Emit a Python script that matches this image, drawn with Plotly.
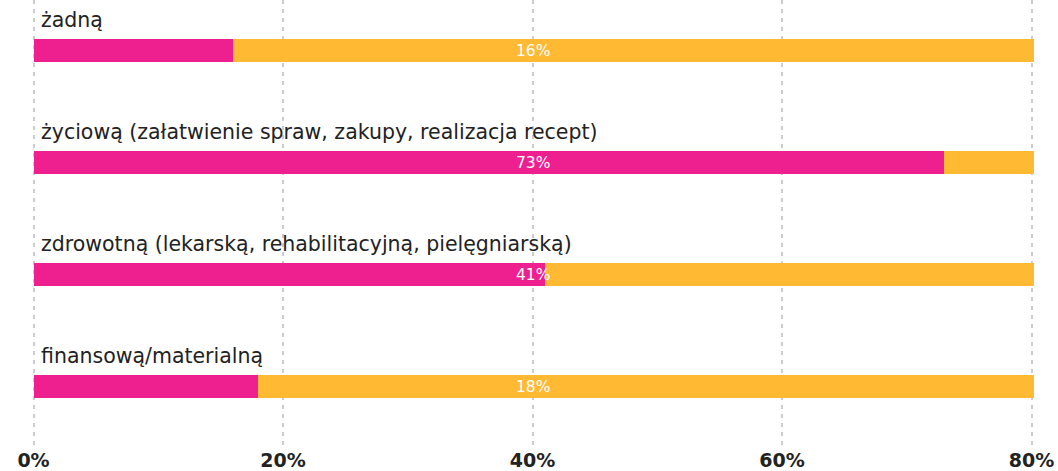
import plotly.graph_objects as go

# Rodzaje pomocy i odsetek odpowiedzi
categories = [
    "żadną",
    "życiową (załatwienie spraw, zakupy, realizacja recept)",
    "zdrowotną (lekarską, rehabilitacyjną, pielęgniarską)",
    "finansową/materialną",
]
values = [16, 73, 41, 18]
remainder = [100 - v for v in values]
tick_vals = [0, 20, 40, 60, 80]
tick_text = ["0%", "20%", "40%", "60%", "80%"]

PINK = "#EE1F8E"
YELLOW = "#FFB933"
FONT = "DejaVu Sans"

pos = list(range(len(categories)))

fig = go.Figure()
fig.add_trace(go.Bar(
    y=pos, x=values, orientation="h", marker=dict(color=PINK, line=dict(width=0)),
    width=0.205, hoverinfo="skip", showlegend=False,
))
fig.add_trace(go.Bar(
    y=pos, x=remainder, base=values, orientation="h",
    marker=dict(color=YELLOW, line=dict(width=0)),
    width=0.205, hoverinfo="skip", showlegend=False,
))

# Nazwy kategorii nad słupkami
for i, name in zip(pos, categories):
    fig.add_annotation(
        x=0, y=i, xref="x", yref="y", text=name, showarrow=False,
        xanchor="left", yanchor="middle", xshift=5, yshift=31,
        font=dict(family=FONT, size=20.5, color="#222222"),
    )

# Wartości procentowe na środku słupka
for i, v in zip(pos, values):
    fig.add_annotation(
        x=40, y=i, xref="x", yref="y", text=f"{v}%", showarrow=False,
        xanchor="center", yanchor="middle",
        font=dict(family=FONT, size=15.5, color="white"),
    )

fig.update_layout(
    width=1058, height=471,
    margin=dict(l=31, r=24, t=0, b=24),
    paper_bgcolor="white", plot_bgcolor="white",
    barmode="overlay", bargap=0,
    xaxis=dict(
        range=[-0.2, 80.2], tickvals=tick_vals, ticktext=tick_text,
        showgrid=True, gridcolor="#CBCBD0", gridwidth=2, griddash="4px,5px",
        zeroline=False, showline=False, ticks="",
        tickfont=dict(family=FONT, size=19, color="#222222", weight="bold"),
    ),
    yaxis=dict(
        range=[3.536, -0.455], showticklabels=False, showgrid=False,
        zeroline=False, showline=False,
    ),
)

fig.write_html("out.html")
